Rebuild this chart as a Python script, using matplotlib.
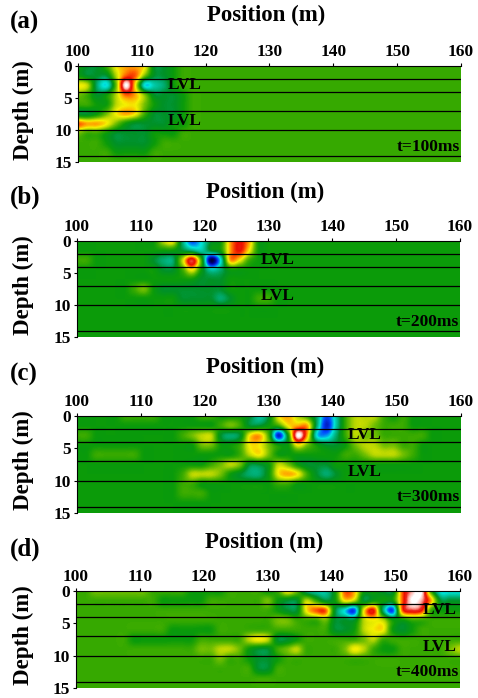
import numpy as np
import matplotlib
matplotlib.use('Agg')
import matplotlib.pyplot as plt
from matplotlib.colors import LinearSegmentedColormap

plt.rcParams['font.family'] = 'Liberation Serif'
plt.rcParams['font.weight'] = 'bold'

W, H = 478, 698

# grid of the sections: 1.5 m along the line, 1.5 m in depth
position = np.linspace(100, 160, 41)
depth = np.linspace(0, 15, 11)
layers = [2, 4, 7, 10, 14]
xticks = [100, 110, 120, 130, 140, 150, 160]
yticks = [0, 5, 10, 15]

# rows are depth; a short row continues with the background
section_a = [
    [0, -1, -1, 1, 4, 5, 5, 4, -1, -1, 0],
    [0, -1, -1, -1, 3, 6, 6, 2, -1, -1, 0],
    [4, 3, -2, -4, 2, 10, 4, -4, -3, -2, 0],
    [2, 1, -1, 0, 3, 6, 5, 2, -1, -1, -1, 0],
    [1, 1, 0, 0, 3, 4, 4, 2, 0, -1, -1, 0],
    [-1, -1, 0, 2, 4, 5, 4, 1, -1, -1, -1, 0],
    [6, 5, 5, 4, 2, 0, -1, -1, -1, -1, 0, 0],
    [2, 1, 1, 0, -1, -1, -1, -1, 0, 0, 0],
    [1, 1, 1, 0, -1, -1, -1, -1, 0],
    [1, 1, 1, 1, 0, 0, 0, 0],
    [1],
]
section_b = [
    [0, 0, 0, 0, 0, 0, 0, 0, 0, 3, 4, -2, -6, -4, -1, 0, 5, 7, 5, 0],
    [0, 0, 0, 0, 0, 0, 0, 0, 0, 0, 0, -1, -2, -3, -1, 0, 5, 7, 4, 0],
    [1, 1, 0, 0, 0, 0, 0, 0, -1, -2, -2, 3, 8, 1, -9, -4, 5, 4, 1, 0],
    [0, 0, 0, 0, 0, 0, 0, 0, 0, -1, -1, 1, 4, 0, -3, -2, 0, 0],
    [0, 0, 0, 0, 0, 0, 0, 0, 0, 0, 0, 0, 0, -1, -1, -1, 0],
    [0, 0, 0, 0, 0, 0, 1, 2, 0, -1, -1, -1, -1, -1, -1, -1, 0],
    [0, 0, 0, 0, 0, 0, 0, 0, 0, 0, 0, -1, -1, -1, -1, -2, -1, 0, 0, 1, 1],
    [0],
    [0],
    [0],
    [0],
]
section_c = [
    [0, 0, 0, 0, 0, 1, 1, 1, 1, 0, 0, 0, 0, 1, 1, 0, 0, 0, -1, -3, -1, 4, 5, 3, 1, -2, -6, -3, 1, 3, 3, 3, 1, 0, 1],
    [0, 0, 0, 0, 0, 0, 0, 0, 0, 0, 0, 0, 0, 0, 0, 1, 2, 1, -1, -1, 0, 1, 4, 5, 5, -2, -7, -3, 1, 3, 3, 2, 1, 1, 1],
    [1, 1, 0, 0, 0, 0, 0, 0, 0, 0, 0, 1, 2, 3, 3, -1, -2, -1, 4, 5, 1, -7, 0, 10, 5, -4, -5, -2, 1, 3, 2, 2, 1, 1, 1, 1, 1],
    [0, 0, 0, 0, 0, 0, 0, 0, 0, 0, 0, 0, 0, 2, 2, 0, 0, 1, 4, 4, 2, 0, 0, 4, 2, 0, -1, -1, 0, 2, 3, 3, 2, 2, 1, 1],
    [0, 0, 1, 1, 1, 1, 1, 0, 0, 0, 0, 0, 0, 0, 0, 0, 0, 1, 3, 4, 2, 0, 0, 0, 0, 0, 0, 0, 1, 1, 2, 3, 3, 3, 2, 1],
    [0, 0, 0, 0, 0, 0, 0, 0, 0, 0, 0, 0, 0, 0, 1, 2, 3, 2, -1, -1, 0, 3, 2, 0, -1, -1, -1],
    [0, 0, 0, 0, 0, 0, 0, 0, 0, 0, 0, 1, 3, 3, 3, 2, 0, -1, -2, -2, 0, 4, 5, 4, 1, -1, -2, -1],
    [0, 0, 0, 0, 0, 0, 0, 0, 0, 0, 0, 1, 1, 0, 0, 0, 0, 0, 0, 0, 0, 1, 1],
    [0, 0, 0, 0, 0, 0, 0, 0, 0, 0, 0, 1, 1, 1],
    [0],
    [0],
]
section_d = [
    [1, 1, 2, 2, 2, 2, 2, 2, 1, 1, 1, 1, 0, 0, 0, 0, 1, 1, 1, 1, 0, 1, 4, 2, -2, -3, -3, 0, 6, 5, 0, 0, -1, -1, 6, 9, 10, 1, -4, -4, -4],
    [1, 1, 1, 1, 1, 1, 1, 1, 1, 0, 0, 0, 0, 0, 1, 1, 1, 1, 1, 1, 2, 0, -1, -1, 3, 1, -1, 0, 4, 3, -1, 0, 0, 0, 6, 10, 9, 5, -1, -1, -1],
    [1, 1, 1, 1, 1, 1, 1, 1, 1, 1, 1, 1, 1, 1, 1, 1, 1, 1, 1, 1, 1, 0, -1, -1, 4, 6, 6, -1, -4, -6, 4, 7, -2, -6, 6, 8, 7, 1, 0, 0, 0],
    [1, 1, 1, 1, 1, 1, 1, 1, 1, 1, 1, 1, 1, 1, 1, 1, 1, 1, 1, 1, 1, 2, 2, 1, 1, 1, 2, -1, -1, -1, 3, 4, 3, 0, 0, 1],
    [1, 1, 1, 1, 1, 1, 1, 1, 1, 1, 0, 0, 0, 0, 0, 1, 1, 1, 1, 1, 1, 1, 1, 1, 1, 1, 1, -1, -1, 0, 3, 4, 4, 0, -1, 0, 1],
    [1, 1, 1, 1, 1, 1, 0, 0, 0, 0, 0, 0, 0, 1, 1, 1, 1, 1, 3, 4, 3, -1, -1, 0, 1, 1, 1, 1, 1, 1, 2, 3, 1],
    [1, 1, 1, 1, 1, 1, 1, 1, 1, 1, 1, 1, 1, 2, 2, 3, 3, 2, 0, -1, -1, 1, 2, 3, 1, 1, 1, 1, 2, 4, 3, 1, 0, 0, 1, 1, 1, 1, 1, 2, 3],
    [1, 1, 1, 1, 1, 1, 1, 1, 1, 1, 1, 1, 1, 1, 1, 2, 1, 1, 0, -1, -1, 0, 1],
    [1, 1, 1, 1, 1, 1, 1, 1, 1, 1, 1, 1, 1, 1, 1, 1, 1, 1, 1, -1, -1, 1],
    [1],
    [1],
]
backgrounds = [1, 0, 0, 1]
panel_labels = ['(a)', '(b)', '(c)', '(d)']
times = ['t=100ms', 't=200ms', 't=300ms', 't=400ms']
lvl_positions = [116.7, 131.5, 144.9, 156.8]

# left, right, top, bottom of each section in pixels
boxes = [(78, 461, 66, 162), (77, 460, 241, 337), (77, 461, 416, 513), (76, 460, 591, 688)]
title_xy = [(266, 15), (265, 192), (265, 367), (264, 542)]
label_y = [22, 197, 374, 549]
depth_y = [110, 285, 460, 635]

cmap = LinearSegmentedColormap.from_list('section', [
    (0.00, '#000000'), (0.10, '#000096'), (0.20, '#0046ff'), (0.30, '#00e6dc'),
    (0.40, '#00aa6e'), (0.45, '#009128'), (0.50, '#0a9b0a'), (0.55, '#37aa00'),
    (0.60, '#6ebe00'), (0.65, '#b9d700'), (0.70, '#f5f000'), (0.75, '#ffaa00'),
    (0.80, '#ff5a00'), (0.85, '#eb0f00'), (0.90, '#eb281e'), (0.95, '#ffaaa0'),
    (1.00, '#ffffff'),
])

fig = plt.figure(figsize=(W / 100, H / 100), dpi=100)

sections = [section_a, section_b, section_c, section_d]
for i, rows in enumerate(sections):
    left, right, top, bottom = boxes[i]
    ax = fig.add_axes([left / W, 1 - bottom / H, (right - left) / W, (bottom - top) / H])
    grid = np.full((len(depth), len(position)), backgrounds[i], dtype=float)
    for r, row in enumerate(rows):
        grid[r, :len(row)] = row
    # catrom goes through the grid values, bicubic would flatten the peaks
    ax.imshow(grid, cmap=cmap, vmin=-10, vmax=10, aspect='auto', interpolation='catrom',
              extent=[99.25, 160.75, 15.75, -0.75])
    ax.hlines(layers, 100, 160, color='black', lw=0.9)
    ax.set_xlim(100, 160)
    ax.set_ylim(15, 0)
    ax.set_xticks(xticks)
    ax.set_yticks(yticks)
    ax.xaxis.tick_top()
    ax.tick_params(length=2.5, width=0.8, pad=2, labelsize=12.5)
    for side in ['right', 'bottom']:
        ax.spines[side].set_visible(False)
    ax.spines['top'].set_linewidth(0.8)
    ax.spines['left'].set_linewidth(0.8)

    ax.text(lvl_positions[i], 3.0, 'LVL', ha='center', va='center', fontsize=12.5)
    ax.text(lvl_positions[i], 8.6, 'LVL', ha='center', va='center', fontsize=12.5)
    ax.text(159.9, 12.6, times[i], ha='right', va='center', fontsize=12.5)

    fig.text(title_xy[i][0] / W, 1 - title_xy[i][1] / H, 'Position (m)', ha='center', va='center', fontsize=16.5)
    fig.text(10 / W, 1 - label_y[i] / H, panel_labels[i], ha='left', va='center', fontsize=18)
    fig.text(23 / W, 1 - depth_y[i] / H, 'Depth (m)', ha='center', va='center', rotation=90, fontsize=16.5)

fig.savefig('out.png', dpi=100)
